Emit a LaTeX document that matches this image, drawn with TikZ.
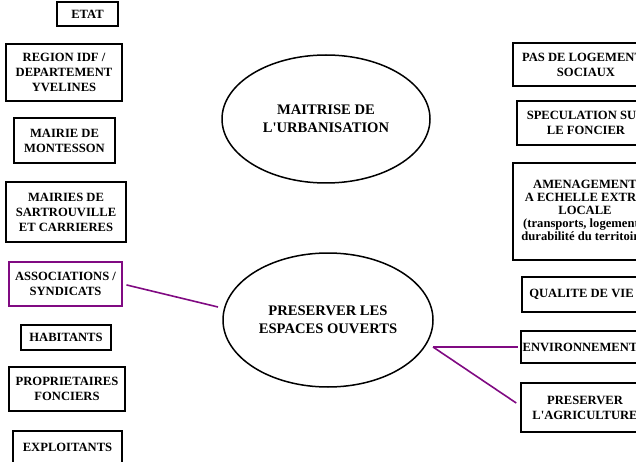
\documentclass[tikz,border=0pt]{standalone}
\usepackage{fontspec}
\setmainfont{Liberation Serif}
\usetikzlibrary{shapes.geometric}
\definecolor{vio}{RGB}{128,10,130}
\begin{document}
\begin{tikzpicture}[x=1pt,y=-1pt,
  every node/.style={font=\bfseries\fontsize{12.6}{15}\selectfont, align=center, inner sep=0pt},
  actor/.style={draw, line width=1.5pt, rectangle},
  actorv/.style={draw=vio, line width=1.2pt, rectangle},
  theme/.style={draw, ellipse, line width=1.5pt, font=\bfseries\fontsize{14.6}{18}\selectfont},
  link/.style={draw=vio, line width=1.6pt}]
\useasboundingbox (0,0) rectangle (636,462);
\clip (0,0) rectangle (636,462);
% left column
\node[actor, minimum width=61pt, minimum height=24pt] (etat) at (87.5,14) {ETAT};
\node[actor, minimum width=116pt, minimum height=57pt] (region) at (64,72.5) {REGION IDF /\\DEPARTEMENT\\YVELINES};
\node[actor, minimum width=101pt, minimum height=45pt] (montesson) at (64.5,140.5) {MAIRIE DE\\MONTESSON};
\node[actor, minimum width=120pt, minimum height=60pt] (sartrou) at (66,212) {MAIRIES DE\\SARTROUVILLE\\ET CARRIERES};
\node[actorv, minimum width=113pt, minimum height=44pt] (assoc) at (65.5,284) {ASSOCIATIONS /\\SYNDICATS};
\node[actor, minimum width=90pt, minimum height=25pt] (habit) at (66,337.5) {HABITANTS};
\node[actor, minimum width=116pt, minimum height=44pt] (proprio) at (67,389) {PROPRIETAIRES\\FONCIERS};
\node[actor, minimum width=109pt, minimum height=32pt] (exploit) at (67.5,447) {EXPLOITANTS};
% centre
\node[theme, minimum width=208pt, minimum height=128pt] (urba) at (326,119) {MAITRISE DE\\L\textquotesingle URBANISATION};
\node[theme, minimum width=210pt, minimum height=134pt] (ouverts) at (328,320) {PRESERVER LES\\ESPACES OUVERTS};
% right column
\node[actor, minimum width=146pt, minimum height=43pt] (logsoc) at (586,64.5) {PAS DE LOGEMENTS\\SOCIAUX};
\node[actor, minimum width=138pt, minimum height=44pt] (specu) at (586,123) {SPECULATION SUR\\LE FONCIER};
\node[actor, minimum width=144pt, minimum height=97pt, font=\bfseries\fontsize{12.6}{13}\selectfont] (amenag) at (585,211.5) {AMENAGEMENT\\A ECHELLE EXTRA\\LOCALE\\(transports, logements,\\durabilité du territoire)};
\node[actor, minimum width=119pt, minimum height=35pt] (qualite) at (581.5,294.5) {QUALITE DE VIE};
\node[actor, minimum width=118pt, minimum height=32pt] (envir) at (580,347) {ENVIRONNEMENT};
\node[actor, minimum width=128pt, minimum height=49pt] (agri) at (585,407.5) {PRESERVER\\L\textquotesingle AGRICULTURE};
% connectors
\coordinate (aend) at (218,307);
\coordinate (hub) at (433,347);
\draw[link, shorten <=4pt] (assoc.east) -- (aend);
\draw[link] (hub) -- ([xshift=-2pt]envir.west);
\draw[link] (hub) -- ([xshift=-4pt,yshift=4.5pt]agri.west);
\end{tikzpicture}
\end{document}
